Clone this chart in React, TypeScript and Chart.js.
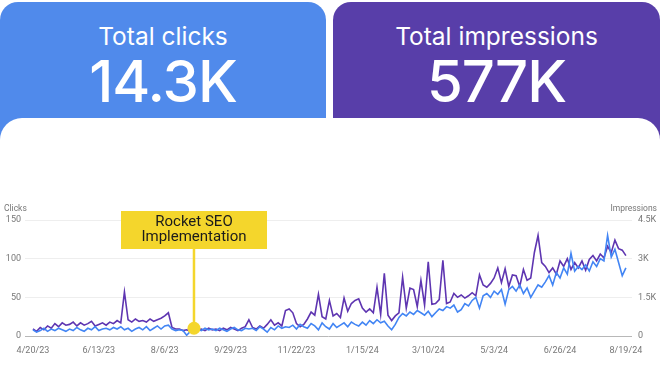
import React, { useEffect, useRef } from 'react';
import { Chart, registerables } from 'chart.js';

Chart.register(...registerables);

// Sampled every 3 days from 4/20/23
const STEP_DAYS = 3;

const clicks = [
  8, 5, 7, 10, 6, 9, 7, 10, 8, 6,
  9, 7, 11, 8, 6, 10, 8, 12, 7, 9,
  10, 8, 11, 9, 12, 8, 10, 6, 9, 11,
  8, 12, 7, 10, 13, 9, 13, 14, 9, 7,
  8, 7, 1, 6, 8, 9, 7, 10, 8, 9,
  7, 10, 8, 6, 9, 11, 8, 7, 10, 9,
  10, 7, 12, 9, 5, 11, 8, 13, 10, 12,
  11, 14, 9, 15, 12, 10, 16, 13, 8, 17,
  12, 9, 16, 11, 14, 17, 12, 18, 15, 13,
  18, 14, 20, 16, 21, 17, 19, 13, 8, 15,
  24, 29, 26, 31, 28, 33, 30, 27, 32, 25,
  30, 35, 33, 38, 36, 40, 31, 34, 42, 39,
  46, 50, 36, 52, 55, 50, 58, 54, 60, 41,
  60, 64, 58, 66, 55, 62, 50, 58, 66, 63,
  70, 78, 66, 82, 75, 88, 80, 107, 84, 90,
  86, 92, 84, 96, 90, 100, 97, 130, 102, 112,
  95, 78, 88,
];

const impressions = [
  270, 180, 330, 240, 390, 300, 480, 360, 510, 420,
  450, 540, 390, 510, 420, 480, 570, 390, 450, 510,
  420, 540, 480, 600, 510, 1710, 630, 540, 660, 570,
  600, 540, 660, 570, 630, 690, 780, 900, 330, 270,
  270, 210, 240, 180, 300, 240, 270, 210, 300, 240,
  270, 210, 300, 240, 330, 270, 210, 300, 360, 630,
  330, 270, 390, 300, 450, 630, 420, 510, 390, 990,
  1050, 900, 480, 360, 450, 660, 930, 810, 1620, 750,
  660, 1380, 780, 870, 720, 1470, 960, 1260, 1380, 1440,
  1080, 930, 1050, 900, 1890, 840, 2430, 810, 600, 780,
  900, 2280, 1080, 1860, 1800, 1140, 2160, 1200, 2880, 1230,
  1260, 1410, 2940, 1260, 1320, 1650, 1500, 1590, 1470, 1560,
  1680, 1560, 2370, 1980, 1890, 2040, 2250, 2640, 2070, 2610,
  1920, 2370, 2340, 1920, 2580, 2160, 2250, 3240, 3900, 2850,
  2700, 2460, 2640, 2400, 2910, 2700, 3000, 2580, 2850, 2640,
  2910, 2550, 2970, 3120, 2910, 3180, 3030, 3480, 3240, 3720,
  3390, 3330, 3120,
];

const xTickDays = [0, 54, 108, 162, 216, 270, 324, 378, 432, 486];
const xTickLabels = ['4/20/23', '6/13/23', '8/6/23', '9/29/23', '11/22/23', '1/15/24', '3/10/24', '5/3/24', '6/26/24', '8/19/24'];
const clickTicks = [0, 50, 100, 150];
const impressionTicks = [0, 1500, 3000, 4500];
const impressionTickLabels = ['0', '1.5K', '3K', '4.5K'];

const annotationDay = 132;
const annotationClicks = 10;
const annotationLines = ['Rocket SEO', 'Implementation'];

const totalClicksLabel = '14.3K';
const totalImpressionsLabel = '577K';

const BLUE = '#4285f4';
const PURPLE = '#5e35b1';
const YELLOW = '#f4d62c';
const AXIS_GREY = '#777777';
const FONT = 'Roboto, "Noto Sans", sans-serif';

const annotationPlugin = {
  id: 'rocketAnnotation',
  afterDatasetsDraw(chart: any) {
    const { ctx, chartArea } = chart;
    const x = chart.scales.x;
    const y = chart.scales.y;
    const px = x.getPixelForValue(annotationDay);
    const py = y.getPixelForValue(annotationClicks);
    const boxW = 146;
    const boxH = 38;
    const boxTop = chartArea.top - 9;
    ctx.save();
    ctx.strokeStyle = YELLOW;
    ctx.lineWidth = 2.5;
    ctx.beginPath();
    ctx.moveTo(px, boxTop + boxH);
    ctx.lineTo(px, py);
    ctx.stroke();
    ctx.fillStyle = YELLOW;
    ctx.fillRect(Math.round(px - boxW / 2), boxTop, boxW, boxH);
    ctx.beginPath();
    ctx.arc(px, py, 6.5, 0, Math.PI * 2);
    ctx.fill();
    ctx.fillStyle = '#1b1b1b';
    ctx.font = `400 15px ${FONT}`;
    ctx.textAlign = 'center';
    ctx.textBaseline = 'middle';
    ctx.fillText(annotationLines[0], px, boxTop + 11.5);
    ctx.fillText(annotationLines[1], px, boxTop + 26);
    ctx.restore();

    ctx.save();
    ctx.font = `8.5px ${FONT}`;
    ctx.fillStyle = AXIS_GREY;
    ctx.textBaseline = 'middle';
    ctx.textAlign = 'left';
    ctx.fillText('Clicks', 4, chartArea.top - 11);
    ctx.textAlign = 'right';
    ctx.fillText('Impressions', chart.width - 3, chartArea.top - 11);
    ctx.restore();
  },
};

function LineChart() {
  const ref = useRef<HTMLCanvasElement | null>(null);
  useEffect(() => {
    if (!ref.current) return;
    const chart = new Chart(ref.current, {
      type: 'line',
      data: {
        datasets: [
          {
            label: 'Clicks',
            data: clicks.map((v, i) => ({ x: i * STEP_DAYS, y: v })),
            borderColor: BLUE,
            borderWidth: 1.6,
            pointRadius: 0,
            tension: 0,
            yAxisID: 'y',
          },
          {
            label: 'Impressions',
            data: impressions.map((v, i) => ({ x: i * STEP_DAYS, y: v })),
            borderColor: PURPLE,
            borderWidth: 1.6,
            pointRadius: 0,
            tension: 0,
            yAxisID: 'y1',
          },
        ],
      },
      options: {
        animation: false,
        responsive: false,
        devicePixelRatio: 1,
        layout: { padding: { top: 24, left: 0, right: 0, bottom: 0 } },
        plugins: { legend: { display: false }, tooltip: { enabled: false } },
        scales: {
          x: {
            type: 'linear',
            min: -6.5,
            max: 491,
            grid: { display: false, drawTicks: false },
            border: { display: false },
            afterBuildTicks: (scale: any) => {
              scale.ticks = xTickDays.map((v) => ({ value: v }));
            },
            afterFit: (scale: any) => {
              scale.height = 30;
            },
            ticks: {
              autoSkip: false,
              maxRotation: 0,
              padding: 9,
              color: AXIS_GREY,
              font: { size: 9, family: FONT },
              callback: (v: any) => {
                const i = xTickDays.indexOf(Number(v));
                return i >= 0 ? xTickLabels[i] : '';
              },
            },
          },
          y: {
            position: 'left',
            min: 0,
            max: 150,
            afterBuildTicks: (scale: any) => {
              scale.ticks = clickTicks.map((v) => ({ value: v }));
            },
            afterFit: (scale: any) => {
              scale.width = 25;
            },
            grid: {
              drawTicks: false,
              color: (c: any) => (c.tick && c.tick.value === 0 ? '#b8b8b8' : '#eeeeee'),
              lineWidth: 1,
            },
            border: { display: false },
            ticks: {
              padding: 4,
              color: AXIS_GREY,
              font: { size: 9, family: FONT },
            },
          },
          y1: {
            position: 'right',
            min: 0,
            max: 4500,
            afterBuildTicks: (scale: any) => {
              scale.ticks = impressionTicks.map((v) => ({ value: v }));
            },
            afterFit: (scale: any) => {
              scale.width = 28;
            },
            grid: { display: false, drawTicks: false },
            border: { display: false },
            ticks: {
              padding: 6,
              color: AXIS_GREY,
              font: { size: 9, family: FONT },
              callback: (v: any) => {
                const i = impressionTicks.indexOf(Number(v));
                return i >= 0 ? impressionTickLabels[i] : '';
              },
            },
          },
        },
      },
      plugins: [annotationPlugin],
    } as any);
    return () => chart.destroy();
  }, []);
  return (
    <canvas
      ref={ref}
      width={660}
      height={170}
      style={{ position: 'absolute', left: 0, top: 196, width: 660, height: 170 }}
    />
  );
}

export default function App() {
  const headFont = 'Inter, "Noto Sans", sans-serif';
  const card = (left: number, width: number, bg: string, title: string, value: string) => (
    <div
      style={{
        position: 'absolute',
        left,
        top: 2,
        width,
        height: 150,
        background: bg,
        borderTopLeftRadius: 18,
        borderTopRightRadius: 18,
        color: '#fff',
        fontFamily: headFont,
        textAlign: 'center',
      }}
    >
      <div style={{ position: 'absolute', left: 0, right: 0, top: 20, fontSize: 24.5, lineHeight: '28px', fontWeight: 400 }}>{title}</div>
      <div style={{ position: 'absolute', left: 0, right: 0, top: 46, fontSize: 58, lineHeight: '66px', fontWeight: 500, letterSpacing: -1 }}>{value}</div>
    </div>
  );
  return (
    <div style={{ position: 'absolute', left: 0, top: 0, width: 660, height: 378, background: '#fff', overflow: 'hidden' }}>
      {card(0, 326, '#508aeb', 'Total clicks', totalClicksLabel)}
      {card(333, 327, '#583ea9', 'Total impressions', totalImpressionsLabel)}
      <div
        style={{
          position: 'absolute',
          left: 0,
          top: 118,
          width: 660,
          height: 260,
          background: '#fff',
          borderTopLeftRadius: 22,
          borderTopRightRadius: 22,
        }}
      />
      <LineChart />
    </div>
  );
}
